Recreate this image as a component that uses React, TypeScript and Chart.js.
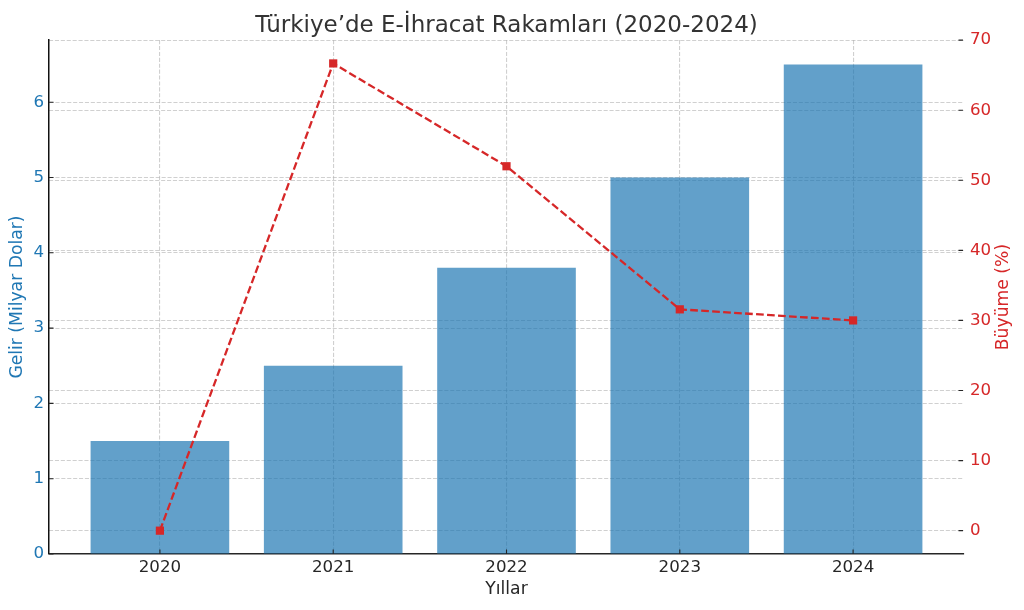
import React, { useEffect, useRef } from 'react';
import { Chart, registerables } from 'chart.js';

Chart.register(...registerables);

// ---- data ----
const years = ['2020', '2021', '2022', '2023', '2024'];
const revenue = [1.5, 2.5, 3.8, 5.0, 6.5];
const growth = [0, 66.67, 52, 31.58, 30];

// axis limits and tick steps
const xLimits = [-0.64, 4.64];
const revenueLimits = [0, 6.825];
const growthLimits = [-3.33, 70];
const revenueStep = 1;
const growthStep = 10;

const chartTitle = 'Türkiye’de E-İhracat Rakamları (2020-2024)';
const xTitle = 'Yıllar';
const leftTitle = 'Gelir (Milyar Dolar)';
const rightTitle = 'Büyüme (%)';

// ---- styles ----
const FONT = '"DejaVu Sans", sans-serif';
const BLUE = '#1f77b4';
const RED = '#d62728';
const BAR = 'rgba(31,119,180,0.7)';
const GRID = 'rgba(176,176,176,0.6)';
const DARK = '#262626';
const LABEL_SIZE = 16.67;
const AXIS_TITLE_SIZE = 17.2;
const TICK_LEN = 4.5;

const keepSteps = (step: number, min: number) => (scale: any) => {
  scale.ticks = scale.ticks.filter((t: any) => {
    const r = t.value / step;
    return t.value >= min - 1e-9 && Math.abs(r - Math.round(r)) < 1e-6;
  });
};

const rightTitlePlugin = {
  id: 'rightTitleRotated',
  afterDraw(chart: any) {
    const s = chart.scales.y1;
    const { top, bottom } = chart.chartArea;
    const ctx = chart.ctx;
    ctx.save();
    ctx.translate(s.right - 20, (top + bottom) / 2);
    ctx.rotate(-Math.PI / 2);
    ctx.font = `${AXIS_TITLE_SIZE}px ${FONT}`;
    ctx.fillStyle = RED;
    ctx.textAlign = 'center';
    ctx.textBaseline = 'middle';
    ctx.fillText(rightTitle, 0, 0);
    ctx.restore();
  },
};

// inward tick marks (matplotlib "direction: in" look)
const inwardTicksPlugin = {
  id: 'inwardTicks',
  afterDatasetsDraw(chart: any) {
    const ctx = chart.ctx;
    const { left, right, bottom } = chart.chartArea;
    ctx.save();
    ctx.strokeStyle = DARK;
    ctx.lineWidth = 1.1;
    ctx.beginPath();
    chart.scales.x.ticks.forEach((t: any) => {
      const px = chart.scales.x.getPixelForValue(t.value);
      ctx.moveTo(px, bottom);
      ctx.lineTo(px, bottom - TICK_LEN);
    });
    chart.scales.y.ticks.forEach((t: any) => {
      const py = chart.scales.y.getPixelForValue(t.value);
      ctx.moveTo(left, py);
      ctx.lineTo(left + TICK_LEN, py);
    });
    chart.scales.y1.ticks.forEach((t: any) => {
      const py = chart.scales.y1.getPixelForValue(t.value);
      ctx.moveTo(right - 1, py);
      ctx.lineTo(right - 1 - TICK_LEN, py);
    });
    ctx.stroke();
    ctx.restore();
  },
};

export default function App() {
  const ref = useRef<HTMLCanvasElement | null>(null);

  useEffect(() => {
    if (!ref.current) return;
    const chart = new Chart(ref.current, {
      type: 'bar',
      data: {
        datasets: [
          {
            type: 'line',
            label: rightTitle,
            data: growth.map((v, i) => ({ x: i, y: v })),
            yAxisID: 'y1',
            xAxisID: 'x',
            borderColor: RED,
            borderWidth: 2.3,
            borderDash: [7.7, 3.3],
            pointStyle: 'rect',
            pointRadius: 5.8,
            pointBackgroundColor: RED,
            pointBorderColor: RED,
            pointBorderWidth: 0,
            fill: false,
            tension: 0,
            order: 0,
          } as any,
          {
            type: 'bar',
            label: leftTitle,
            data: revenue.map((v, i) => ({ x: i, y: v })),
            yAxisID: 'y',
            xAxisID: 'x',
            backgroundColor: BAR,
            borderWidth: 0,
            categoryPercentage: 0.8,
            barPercentage: 1.0,
            order: 1,
          } as any,
        ],
      },
      options: {
        animation: false,
        responsive: true,
        maintainAspectRatio: false,
        layout: { padding: 0 },
        plugins: {
          legend: { display: false },
          tooltip: { enabled: false },
          title: {
            display: true,
            text: chartTitle,
            fullSize: false,
            color: '#333333',
            font: { family: FONT, size: 23, weight: 'normal' },
            padding: { top: 12.5, bottom: 0 },
          },
        },
        scales: {
          x: {
            type: 'linear',
            position: 'bottom',
            offset: false,
            min: xLimits[0],
            max: xLimits[1],
            afterBuildTicks: keepSteps(1, 0),
            afterFit: (s: any) => {
              s.height = 56;
            },
            ticks: {
              color: DARK,
              font: { family: FONT, size: LABEL_SIZE },
              padding: 4,
              callback: (v: any) => years[Math.round(Number(v))] ?? '',
            },
            grid: {
              color: GRID,
              lineWidth: 1.1,
              drawTicks: false,
              offset: false,
            },
            border: { display: true, color: DARK, width: 1.5, dash: [4.1, 1.8] },
            title: {
              display: true,
              text: xTitle,
              color: DARK,
              font: { family: FONT, size: AXIS_TITLE_SIZE },
              padding: { top: 0, bottom: 10 },
            },
          },
          y: {
            type: 'linear',
            position: 'left',
            min: revenueLimits[0],
            max: revenueLimits[1],
            afterBuildTicks: keepSteps(revenueStep, 0),
            afterFit: (s: any) => {
              s.width = 49;
            },
            ticks: {
              color: BLUE,
              font: { family: FONT, size: LABEL_SIZE },
              padding: 5,
              stepSize: revenueStep,
            },
            grid: {
              color: GRID,
              lineWidth: 1.1,
              drawTicks: false,
            },
            border: { display: true, color: '#111111', width: 1.5, dash: [4.1, 1.8] },
            title: {
              display: true,
              text: leftTitle,
              color: BLUE,
              font: { family: FONT, size: AXIS_TITLE_SIZE },
              padding: { top: 7.5, bottom: 0 },
            },
          },
          y1: {
            type: 'linear',
            position: 'right',
            min: growthLimits[0],
            max: growthLimits[1],
            afterBuildTicks: keepSteps(growthStep, 0),
            afterFit: (s: any) => {
              s.width = 60;
            },
            ticks: {
              color: RED,
              font: { family: FONT, size: LABEL_SIZE },
              padding: 6,
              stepSize: growthStep,
            },
            grid: {
              color: GRID,
              lineWidth: 1.1,
              drawTicks: false,
              drawOnChartArea: true,
            },
            border: { display: false, dash: [4.1, 1.8] },
            title: { display: false },
          },
        },
      } as any,
      plugins: [rightTitlePlugin, inwardTicksPlugin],
    });
    return () => chart.destroy();
  }, []);

  return (
    <div
      style={{
        position: 'fixed',
        left: 0,
        top: 0,
        width: 1024,
        height: 610,
        background: '#ffffff',
      }}
    >
      <canvas ref={ref} />
    </div>
  );
}
